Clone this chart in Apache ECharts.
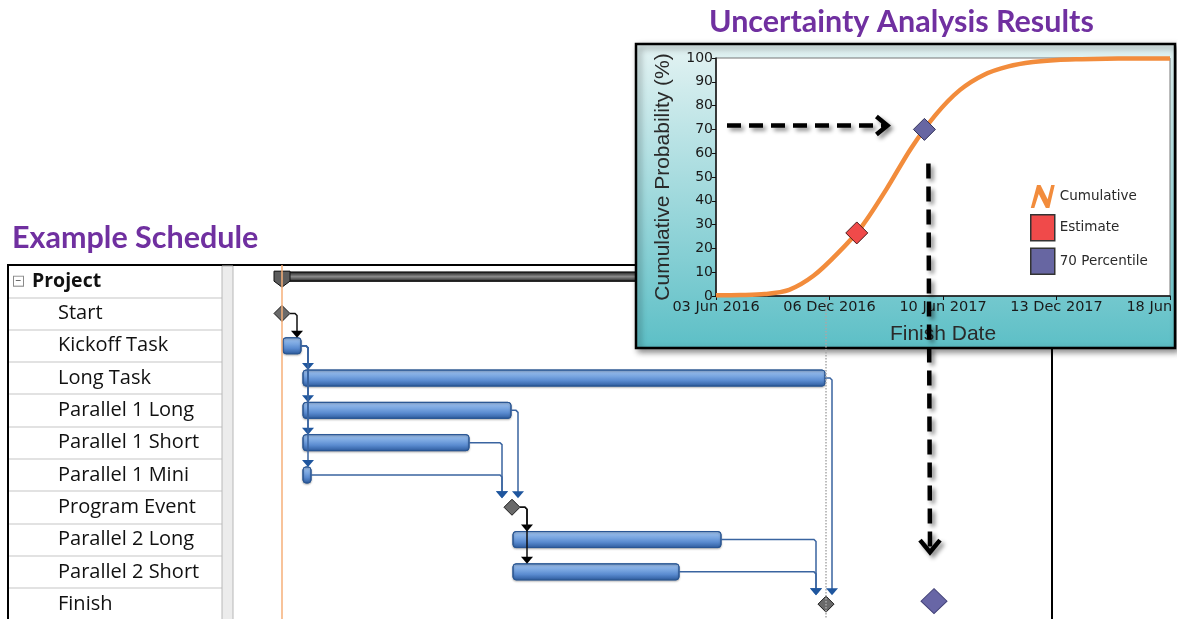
<!DOCTYPE html>
<html><head><meta charset="utf-8">
<script src="https://cdn.jsdelivr.net/npm/echarts@6/dist/echarts.min.js"></script>
<style>html,body{margin:0;padding:0;background:#fff}#c{width:1178px;height:619px}</style>
</head><body><div id="c"></div>
<script>
// ---------- Gantt data (days from project start) ----------
const tasks = ['Project','Start','Kickoff Task','Long Task','Parallel 1 Long','Parallel 1 Short','Parallel 1 Mini','Program Event','Parallel 2 Long','Parallel 2 Short','Finish'];
const taskKind = ['summary','milestone','task','task','task','task','task','milestone','task','task','milestone'];
const taskStart = [0, 0, 0, 10, 10, 10, 10, 115, 115, 115, 272];
const taskEnd   = [272, 0, 10, 272, 115, 94, 15, 115, 220, 199, 272];
const links = [[1,2],[2,3],[2,4],[2,5],[2,6],[4,7],[5,7],[6,7],[7,8],[7,9],[3,10],[8,10],[9,10]];
const statusDay = 0;
const finishDay = 272;
const p70FinishDay = 326;

// ---------- Uncertainty analysis data (days since 03 Jun 2016, %) ----------
const cumDays = [0, 40, 80, 120, 160, 200, 240, 280, 320, 360, 400, 440, 480, 520, 560, 600, 640, 680, 745];
const cumProb = [0.3, 0.4, 0.8, 2.6, 8.5, 18, 29.5, 45, 62, 76, 86.5, 93, 96.5, 98.3, 99.2, 99.5, 99.7, 99.8, 99.8];
const estimatePoint = [231, 26.5];
const p70Point = [342, 70];
const xTickLabels = ['03 Jun 2016','06 Dec 2016','10 Jun 2017','13 Dec 2017','18 Jun 2018'];

const chart = echarts.init(document.getElementById('c'), null, {renderer: 'canvas'});
const LG = echarts.graphic.LinearGradient;
const barFill = new LG(0,0,0,1,[{offset:0,color:'#A3C4EE'},{offset:0.4,color:'#78A5E0'},{offset:0.65,color:'#5A8BD0'},{offset:1,color:'#2C5A9C'}]);
const sumFill = new LG(0,0,0,1,[{offset:0,color:'#1c1c1c'},{offset:0.5,color:'#8c8c8c'},{offset:1,color:'#1c1c1c'}]);

function renderTask(params, api) {
  const i = api.value(0);
  const kind = taskKind[i];
  const s = api.coord([api.value(1), i]);
  const e = api.coord([api.value(2), i]);
  const y = s[1];
  if (kind === 'milestone') {
    return {type:'polygon', shape:{points:[[s[0],y-8],[s[0]+8,y],[s[0],y+8],[s[0]-8,y]]},
      style:{fill:'#6a6a6a', stroke:'#1a1a1a', lineWidth:1}};
  }
  if (kind === 'summary') {
    return {type:'group', children:[
      {type:'rect', shape:{x:s[0]-7, y:y-9, width:e[0]-s[0]+14, height:9}, style:{fill:sumFill, stroke:'#111', lineWidth:1}},
      {type:'polygon', shape:{points:[[s[0]-8,y-10],[s[0]+8,y-10],[s[0]+8,y],[s[0],y+6],[s[0]-8,y]]}, style:{fill:'#5c5c5c', stroke:'#111', lineWidth:1}},
      {type:'polygon', shape:{points:[[e[0]-8,y-10],[e[0]+8,y-10],[e[0]+8,y],[e[0],y+6],[e[0]-8,y]]}, style:{fill:'#5c5c5c', stroke:'#111', lineWidth:1}}
    ]};
  }
  return {type:'rect', shape:{x:s[0]+1, y:y-8, width:Math.max(e[0]-s[0]-2,6), height:16, r:3},
    style:{fill:barFill, stroke:'#2A5794', lineWidth:1, shadowBlur:2, shadowColor:'rgba(0,0,0,0.25)', shadowOffsetY:1}};
}

function renderLink(params, api) {
  const a = api.value(0), b = api.value(1);
  const srcMs = taskKind[a] === 'milestone';
  const tgtMs = taskKind[b] === 'milestone';
  const pe = api.coord([taskEnd[a], a]);
  const ps = api.coord([taskStart[b], b]);
  const xe = srcMs ? pe[0] + 8 : pe[0] - 1;
  const ys = pe[1];
  const yTop = ps[1] - (tgtMs ? 9 : 8);
  const tgtLeft = tgtMs ? ps[0] : ps[0] + 1;
  let ax = xe + 7;
  if (ax < tgtLeft) ax = ps[0] - (tgtMs ? 10 : 8);
  const lineCol = srcMs ? '#111' : '#3A64A0';
  const headCol = srcMs ? '#000' : '#1F569E';
  return {type:'group', children:[
    {type:'polyline', shape:{points:[[xe,ys],[ax-2,ys],[ax,ys+2],[ax,yTop-6]]}, style:{stroke:lineCol, lineWidth:1.5, fill:null}},
    {type:'polygon', shape:{points:[[ax-6,yTop-7],[ax+6,yTop-7],[ax,yTop]]}, style:{fill:headCol}}
  ]};
}

const taskData = tasks.map((t, i) => [i, taskStart[i], taskEnd[i]]);
const tableFont = 'Open Sans';
const insetFont = 'DejaVu Sans';

const option = {
  animation: false,
  backgroundColor: '#fff',
  title: [
    {text: 'Uncertainty Analysis Results', left: 704, top: 2, textStyle: {fontFamily: 'Lato', fontWeight: 'bold', fontSize: 30.5, color: '#7030A0'}},
    {text: 'Example Schedule', left: 7, top: 218, textStyle: {fontFamily: 'Lato', fontWeight: 'bold', fontSize: 30.5, color: '#7030A0'}}
  ],
  grid: [
    {left: 8, top: 265, width: 214, height: 355.3, outerBoundsMode: 'none'},
    {left: 233, top: 265, width: 819, height: 355.3, outerBoundsMode: 'none'},
    {left: 716, top: 58, width: 454, height: 238, outerBoundsMode: 'none', show: true, backgroundColor: '#fff', borderColor: '#777', borderWidth: 1, z: 10}
  ],
  xAxis: [
    {gridIndex: 0, type: 'value', min: 0, max: 1, show: false},
    {gridIndex: 1, type: 'value', min: -24.5, max: 385, show: false},
    {gridIndex: 2, type: 'value', min: 0, max: 745, interval: 186.25, z: 11,
      axisLine: {lineStyle: {color: '#111', width: 1.5}},
      axisTick: {show: true, length: 4, lineStyle: {color: '#111'}},
      splitLine: {show: false},
      axisLabel: {fontFamily: insetFont, fontSize: 14.5, color: '#1a1a1a', margin: 4,
        formatter: v => xTickLabels[Math.round(v / 186.25)]},
      name: 'Finish Date', nameLocation: 'middle', nameGap: 28,
      nameTextStyle: {fontFamily: 'Liberation Sans', fontSize: 21, color: '#2a2a2a'}}
  ],
  yAxis: [
    {gridIndex: 0, type: 'category', data: tasks, inverse: true,
      axisLine: {show: false}, axisTick: {show: false},
      splitLine: {show: true, lineStyle: {color: '#D9D9D9', width: 1.5}},
      axisLabel: {inside: true, margin: 6, interval: 0,
        formatter: (v, idx) => taskKind[idx] === 'summary' ? '{box|−}{bold|' + v + '}' : '{norm|' + v + '}',
        rich: {
          box: {width: 9, height: 9, lineHeight: 9, borderColor: '#8a8a8a', borderWidth: 1, align: 'center', fontSize: 10, color: '#333', backgroundColor: '#fff'},
          bold: {fontFamily: tableFont, fontWeight: 'bold', fontSize: 19.5, color: '#111', padding: [0,0,0,9]},
          norm: {fontFamily: tableFont, fontSize: 20, color: '#111', padding: [0,0,0,44]}
        }}},
    {gridIndex: 1, type: 'category', data: tasks, inverse: true, show: false},
    {gridIndex: 2, type: 'value', min: 0, max: 100, interval: 10, z: 11,
      axisLine: {show: true, lineStyle: {color: '#111', width: 1.5}},
      axisTick: {show: true, length: 4, lineStyle: {color: '#111'}},
      splitLine: {show: false},
      axisLabel: {fontFamily: insetFont, fontSize: 14, color: '#1a1a1a', margin: 3},
      name: 'Cumulative Probability (%)', nameLocation: 'middle', nameGap: 42, nameRotate: 90,
      nameTextStyle: {fontFamily: 'Liberation Sans', fontSize: 21, color: '#2a2a2a'}}
  ],
  legend: {
    orient: 'vertical', left: 1030, top: 185, itemWidth: 24, itemHeight: 26, itemGap: 6, padding: 0,
    selectedMode: false, z: 12,
    textStyle: {fontFamily: insetFont, fontSize: 13.5, color: '#2a2a2a'},
    data: [
      {name: 'Cumulative', icon: 'path://M0,26 L7,0 L11,0 L19,16 L23,0 L27,0 L21,26 L17,26 L9,10 L4,26 Z', itemStyle: {color: '#F28C3C', borderWidth: 0}},
      {name: 'Estimate', icon: 'rect', itemStyle: {color: '#F04A4A', borderColor: '#333', borderWidth: 1.5}},
      {name: '70 Percentile', icon: 'rect', itemStyle: {color: '#6766A2', borderColor: '#333', borderWidth: 1.5}}
    ]
  },
  series: [
    {type: 'custom', name: 'tasks', xAxisIndex: 1, yAxisIndex: 1, renderItem: renderTask,
      encode: {x: [1, 2], y: 0}, data: taskData, z: 3,
      markLine: {silent: true, symbol: 'none', label: {show: false},
        data: [
          {xAxis: statusDay, lineStyle: {color: '#F6AF78', width: 1.5, type: 'solid'}},
          {xAxis: finishDay, lineStyle: {color: '#A8A8A8', width: 1.5, type: 'dotted'}}
        ]}},
    {type: 'custom', name: 'links', xAxisIndex: 1, yAxisIndex: 1, renderItem: renderLink,
      encode: {x: 0, y: 1}, data: links, z: 4},
    {type: 'scatter', name: 'p70finish', xAxisIndex: 1, yAxisIndex: 1, data: [[p70FinishDay, 10]],
      symbol: 'diamond', symbolSize: [26, 25], symbolOffset: [0, -3], z: 4,
      itemStyle: {color: '#6866A6', borderColor: '#45447A', borderWidth: 1, opacity: 1}},
    {type: 'line', name: 'Cumulative', xAxisIndex: 2, yAxisIndex: 2, z: 12,
      data: cumDays.map((d, i) => [d, cumProb[i]]), smooth: 0.3, showSymbol: false,
      lineStyle: {color: '#F28C3C', width: 4.5}, itemStyle: {color: '#F28C3C'}},
    {type: 'scatter', name: 'Estimate', xAxisIndex: 2, yAxisIndex: 2, z: 13,
      data: [estimatePoint], symbol: 'diamond', symbolSize: 22,
      itemStyle: {color: '#F04A4A', borderColor: '#4a1a1a', borderWidth: 1, opacity: 1}},
    {type: 'scatter', name: '70 Percentile', xAxisIndex: 2, yAxisIndex: 2, z: 13,
      data: [p70Point], symbol: 'diamond', symbolSize: 22,
      itemStyle: {color: '#6766A2', borderColor: '#33335a', borderWidth: 1, opacity: 1}}
  ],
  graphic: {elements: [
    {id: 'frame', type: 'rect', z: 1, shape: {x: 8, y: 265, width: 1044, height: 380},
      style: {fill: 'rgba(0,0,0,0)', stroke: '#000', lineWidth: 2}},
    {id: 'divider', type: 'rect', z: 1, shape: {x: 222, y: 266, width: 11, height: 380},
      style: {fill: '#ECECEC', stroke: '#B8B8B8', lineWidth: 1}},
    {id: 'insetbg', type: 'rect', z: 5, shape: {x: 636, y: 44, width: 539, height: 304},
      style: {fill: new LG(0,0,0,1,[{offset:0,color:'#E4F3F3'},{offset:1,color:'#5CBFC6'}]),
        stroke: '#000', lineWidth: 2.5, shadowBlur: 6, shadowOffsetX: 3, shadowOffsetY: 3, shadowColor: 'rgba(0,0,0,0.45)'}},
    {id: 'clipR', type: 'rect', z: 20, shape: {x: 1177, y: 40, width: 5, height: 320}, style: {fill: '#fff'}}
  ]}
};
chart.setOption(option);

// annotation arrows positioned from the chart's own coordinate systems
const p70px = chart.convertToPixel({gridIndex: 2}, p70Point);
const plotLeft = chart.convertToPixel({gridIndex: 2}, [0, 0])[0];
const pg = chart.convertToPixel({gridIndex: 1}, [p70FinishDay, 10]);
const arrowStyle = {stroke: '#000', lineWidth: 4.5, fill: null, shadowBlur: 4, shadowColor: 'rgba(0,0,0,0.45)', shadowOffsetX: 3, shadowOffsetY: 3};
const hy = p70px[1] - 4, hx0 = plotLeft + 11, hx1 = p70px[0] - 37;
const vx0 = p70px[0] + 4, vy0 = p70px[1] + 34, vx1 = pg[0] - 4, vy1 = pg[1] - 52;
chart.setOption({graphic: {elements: [
  {id: 'hLine', type: 'line', z: 30, shape: {x1: hx0, y1: hy, x2: hx1 - 3, y2: hy},
    style: Object.assign({}, arrowStyle, {lineDash: [14, 8]})},
  {id: 'hHead', type: 'polyline', z: 30, shape: {points: [[hx1 - 11, hy - 9], [hx1, hy], [hx1 - 11, hy + 9]]}, style: arrowStyle},
  {id: 'vLine', type: 'line', z: 30, shape: {x1: vx0, y1: vy0, x2: vx1, y2: vy1 - 3},
    style: Object.assign({}, arrowStyle, {lineDash: [15, 8]})},
  {id: 'vHead', type: 'polyline', z: 30, shape: {points: [[vx1 - 10, vy1 - 12], [vx1, vy1], [vx1 + 10, vy1 - 12]]}, style: arrowStyle}
]}});
</script>
</body></html>
